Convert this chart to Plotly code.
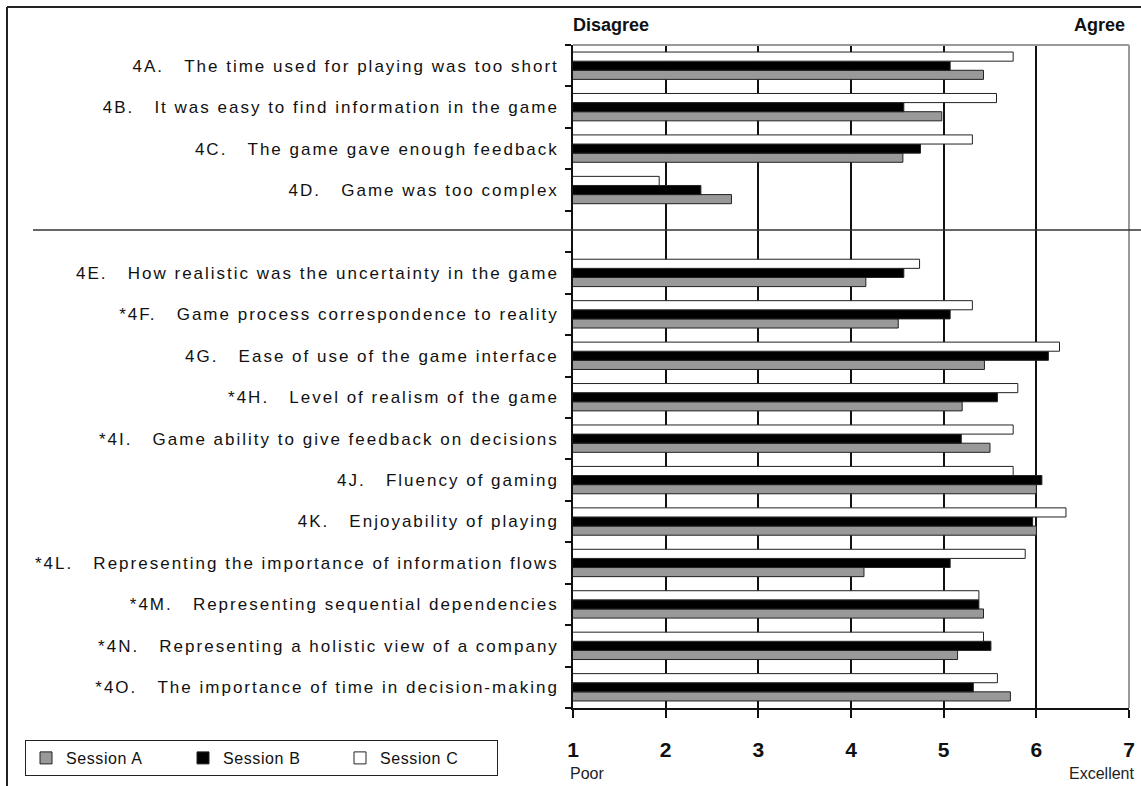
import plotly.graph_objects as go

NB = "\u00a0"
codes = ["4A.", "4B.", "4C.", "4D.", "", "4E.", "*4F.", "4G.", "*4H.", "*4I.", "4J.", "4K.",
         "*4L.", "*4M.", "*4N.", "*4O."]
questions = [
    "The time used for playing was too short",
    "It was easy to find information in the game",
    "The game gave enough feedback",
    "Game was too complex",
    "",
    "How realistic was the uncertainty in the game",
    "Game process correspondence to reality",
    "Ease of use of the game interface",
    "Level of realism of the game",
    "Game ability to give feedback on decisions",
    "Fluency of gaming",
    "Enjoyability of playing",
    "Representing the importance of information flows",
    "Representing sequential dependencies",
    "Representing a holistic view of a company",
    "The importance of time in decision-making",
]
session_a = [5.43, 4.98, 4.56, 2.71, None, 4.16, 4.51, 5.44, 5.20, 5.50, 6.00, 6.00, 4.14, 5.43, 5.15, 5.72]
session_b = [5.07, 4.57, 4.75, 2.38, None, 4.57, 5.07, 6.13, 5.58, 5.19, 6.06, 5.96, 5.07, 5.38, 5.51, 5.32]
session_c = [5.75, 5.57, 5.31, 1.93, None, 4.74, 5.31, 6.25, 5.80, 5.75, 5.75, 6.32, 5.88, 5.38, 5.43, 5.58]
x_ticks = [1, 2, 3, 4, 5, 6, 7]

labels = []
for c, q in zip(codes, questions):
    labels.append(f"{c}{NB*3}{q}" if c else NB)

W, H = 1141, 786
ML, MR, MT, MB = 573, 12, 45, 78
PW, PH = W - ML - MR, H - MT - MB

def px_x(p):
    return (p - ML) / PW

def px_y(p):
    return (H - MB - p) / PH

FONT = "Liberation Sans, Arial, sans-serif"

fig = go.Figure()
series = [("Session A", session_a, "#999999"),
          ("Session B", session_b, "#000000"),
          ("Session C", session_c, "#ffffff")]
for name, vals, col in series:
    fig.add_trace(go.Bar(
        y=labels, x=vals, name=name, orientation="h",
        marker=dict(color=col, line=dict(color="#222222", width=1)),
    ))

fig.update_layout(
    width=W, height=H,
    margin=dict(l=ML, r=MR, t=MT, b=MB, autoexpand=False),
    paper_bgcolor="white", plot_bgcolor="white",
    barmode="group", bargap=0.34, bargroupgap=0,
    font=dict(family=FONT, color="#222222"),
    showlegend=True,
    legend=dict(
        orientation="h", xref="paper", yref="paper",
        x=px_x(25), y=px_y(740), xanchor="left", yanchor="top",
        bordercolor="#222222", borderwidth=1,
        font=dict(size=16, family=FONT, color="#111111"),
        entrywidth=112, entrywidthmode="pixels",
        traceorder="normal",
    ),
    xaxis=dict(
        range=[1, 7], tickvals=x_ticks, ticktext=[str(v) for v in x_ticks],
        showgrid=True, gridcolor="#111111", gridwidth=1.5,
        showline=True, linecolor="#111111", linewidth=1.5,
        ticks="outside", ticklen=8, tickcolor="#111111", tickwidth=1.5,
        tickfont=dict(size=21, family=FONT, color="#111111", weight="bold"),
        ticklabelstandoff=14, zeroline=False, fixedrange=True,
    ),
    yaxis=dict(
        type="category", categoryorder="array", categoryarray=labels[::-1],
        showgrid=False, showline=True, linecolor="#111111", linewidth=1.5,
        ticks="outside", ticklen=6, tickcolor="#111111", tickwidth=1.5,
        tickson="boundaries",
        tickfont=dict(size=17, family=FONT, color="#111111"),
        ticklabelstandoff=9, fixedrange=True,
    ),
)

# plot frame (top and right, gray)
fig.add_shape(type="line", xref="paper", yref="paper", x0=0, x1=1, y0=1, y1=1,
              line=dict(color="#999999", width=2))
fig.add_shape(type="line", xref="paper", yref="paper", x0=1, x1=1, y0=0, y1=1,
              line=dict(color="#999999", width=2))
# separator between question groups
fig.add_shape(type="line", xref="paper", yref="paper", x0=px_x(33), x1=px_x(W + 5),
              y0=px_y(230), y1=px_y(230), line=dict(color="#333333", width=1.5))
# outer frame (left and top)
fig.add_shape(type="line", xref="paper", yref="paper", x0=px_x(7), x1=px_x(7),
              y0=px_y(7), y1=px_y(H + 5), line=dict(color="#222222", width=2))
fig.add_shape(type="line", xref="paper", yref="paper", x0=px_x(7), x1=px_x(W + 5),
              y0=px_y(7), y1=px_y(7), line=dict(color="#222222", width=2))

ann_font_b = dict(size=18, family=FONT, color="#111111", weight="bold")
ann_font = dict(size=16, family=FONT, color="#222222")
fig.add_annotation(text="Disagree", xref="paper", yref="paper", x=px_x(571), y=px_y(25),
                   xanchor="left", yanchor="middle", showarrow=False, font=ann_font_b)
fig.add_annotation(text="Agree", xref="paper", yref="paper", x=px_x(1127), y=px_y(25),
                   xanchor="right", yanchor="middle", showarrow=False, font=ann_font_b)
fig.add_annotation(text="Poor", xref="paper", yref="paper", x=px_x(568), y=px_y(773),
                   xanchor="left", yanchor="middle", showarrow=False, font=ann_font)
fig.add_annotation(text="Excellent", xref="paper", yref="paper", x=px_x(1136), y=px_y(773),
                   xanchor="right", yanchor="middle", showarrow=False, font=ann_font)

post = """
document.body.style.margin = '0';
document.body.style.overflow = 'hidden';
function spaceLabels() {
  document.querySelectorAll('.ytick text').forEach(function (t) { t.style.letterSpacing = '2.0px'; });
  document.querySelectorAll('.legendtext').forEach(function (t) { t.style.letterSpacing = '0.6px'; });
}
spaceLabels();
var gdv = document.getElementById('{plot_id}');
if (gdv && gdv.on) { gdv.on('plotly_afterplot', spaceLabels); }
"""
fig.write_html("out.html", post_script=post, config={"displayModeBar": False})
